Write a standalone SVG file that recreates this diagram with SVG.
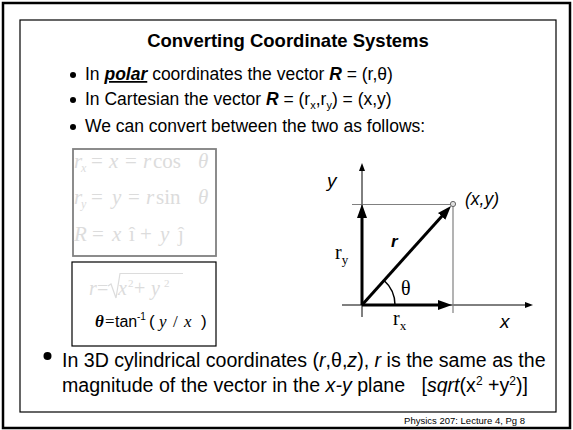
<svg xmlns="http://www.w3.org/2000/svg" width="573" height="430" viewBox="0 0 573 430">
<defs>
<style>
.sans{font-family:"Liberation Sans",Arial,sans-serif}
.serif{font-family:"Liberation Serif","Times New Roman",serif}
.light{fill:#dcdcdc}
.it{font-style:italic}
.bi{font-style:italic;font-weight:bold}
.axis{stroke:#000;stroke-width:1;fill:none}
.guide{stroke:#808080;stroke-width:1.2;fill:none}
.vec{stroke:#000;stroke-width:3;fill:none}
</style>
<marker id="axhead" markerUnits="userSpaceOnUse" markerWidth="8" markerHeight="6" refX="2" refY="3" orient="auto"><path d="M0,0 L8,3 L0,6 z" fill="#000"/></marker>
<marker id="vechead" markerUnits="userSpaceOnUse" markerWidth="14" markerHeight="10" refX="4" refY="5" orient="auto"><path d="M0,0 L14,5 L0,10 z" fill="#000"/></marker>
</defs>
<rect x="0" y="0" width="573" height="430" fill="#fff"/>
<rect x="3" y="3" width="567" height="425" fill="#fff" stroke="#000" stroke-width="2.5"/>
<rect x="20" y="20" width="536" height="392" fill="#fff" stroke="#000" stroke-width="1.2"/>

<g id="title">
<text class="sans" x="288" y="47" font-size="18.5" font-weight="bold" text-anchor="middle">Converting Coordinate Systems</text>
</g>

<g id="bullets" class="sans" font-size="17.5">
<circle cx="73" cy="75" r="3"/>
<text x="85" y="80">In <tspan class="bi" text-decoration="underline">polar</tspan> coordinates the vector <tspan class="bi">R</tspan> = (r,θ)</text>
<circle cx="73" cy="100" r="3"/>
<text x="85" y="105">In Cartesian the vector <tspan class="bi">R</tspan> = (r<tspan font-size="11" dy="4">x</tspan><tspan dy="-4">,r</tspan><tspan font-size="11" dy="4">y</tspan><tspan dy="-4">) = (x,y)</tspan></text>
<circle cx="73" cy="127" r="3"/>
<text x="85" y="132">We can convert between the two as follows:</text>
</g>

<g id="box-components">
<rect x="73" y="149" width="143" height="107" fill="#fff" stroke="#808080" stroke-width="1.8"/>
<g class="serif light" font-size="21">
<text y="168"><tspan x="74" class="it">r</tspan><tspan x="81" dy="4" font-size="12" class="it">x</tspan><tspan x="91" dy="-4">=</tspan><tspan x="109" class="it">x</tspan><tspan x="125">=</tspan><tspan x="143" class="it">r</tspan><tspan x="153">cos</tspan><tspan x="198" class="it">θ</tspan></text>
<text y="204"><tspan x="74" class="it">r</tspan><tspan x="81" dy="4" font-size="12" class="it">y</tspan><tspan x="91" dy="-4">=</tspan><tspan x="112" class="it">y</tspan><tspan x="128">=</tspan><tspan x="146" class="it">r</tspan><tspan x="156">sin</tspan><tspan x="198" class="it">θ</tspan></text>
<text y="241"><tspan x="74" class="it">R</tspan><tspan x="92">=</tspan><tspan x="112" class="it">x</tspan><tspan x="129">î</tspan><tspan x="140">+</tspan><tspan x="160" class="it">y</tspan><tspan x="178">ĵ</tspan></text>
</g>
</g>

<g id="box-polar">
<rect x="72" y="262" width="144" height="84" fill="#fff" stroke="#000" stroke-width="1.2"/>
<g class="serif light" font-size="20">
<text y="295"><tspan x="89" class="it">r</tspan><tspan x="97">=</tspan><tspan x="118" class="it">x</tspan><tspan x="128" dy="-8" font-size="11">2</tspan><tspan x="134" dy="8">+</tspan><tspan x="151" class="it">y</tspan><tspan x="164" dy="-8" font-size="11">2</tspan></text>
</g>
<path d="M108,286 L111,284 L116,298 L120,273.5 L183,273.5" fill="none" stroke="#dcdcdc" stroke-width="1.2"/>
<text y="327" font-size="17"><tspan x="95" class="serif bi">θ</tspan><tspan x="105" class="serif">=</tspan><tspan x="115" class="sans" font-size="16">tan</tspan><tspan x="137" dy="-7" class="sans" font-size="10">-1</tspan><tspan x="149" dy="7" class="sans">(</tspan><tspan x="159" class="serif it">y</tspan><tspan x="173" class="serif">/</tspan><tspan x="184" class="serif it">x</tspan><tspan x="201" class="sans">)</tspan></text>
</g>

<g id="connectors">
<line class="axis" x1="362" y1="317" x2="362" y2="169" marker-end="url(#axhead)"/>
<line class="axis" x1="342" y1="305" x2="527" y2="305" marker-end="url(#axhead)"/>
<line class="guide" x1="352" y1="204.5" x2="453" y2="204.5"/>
<line class="guide" x1="453" y1="204.5" x2="453" y2="313"/>
<line class="vec" x1="362" y1="305" x2="362" y2="214" marker-end="url(#vechead)"/>
<line class="vec" x1="362" y1="305" x2="442" y2="305" marker-end="url(#vechead)"/>
<line class="vec" x1="362" y1="305" x2="444.3" y2="213.4" marker-end="url(#vechead)"/>
<path d="M395,305 A33,33 0 0 0 384.1,280.5" fill="none" stroke="#000" stroke-width="1.5"/>
<circle cx="453" cy="204" r="2.6" fill="#e0e0e0" stroke="#666" stroke-width="1"/>
</g>

<g id="diagram-labels">
<text class="sans it" x="327" y="187" font-size="19">y</text>
<text class="sans it" x="465" y="205" font-size="17.5">(x,y)</text>
<text class="sans bi" x="391" y="247" font-size="17">r</text>
<text class="serif" x="335" y="259" font-size="20">r<tspan font-size="13" dy="5">y</tspan></text>
<text class="serif" x="401" y="295" font-size="20">θ</text>
<text class="serif" x="393" y="325" font-size="20">r<tspan font-size="13" dy="5">x</tspan></text>
<text class="sans it" x="500" y="328" font-size="19">x</text>
</g>

<g id="bottom-bullet" class="sans" font-size="19.6">
<circle cx="47.5" cy="356" r="4"/>
<text x="62" y="367">In 3D cylindrical coordinates (<tspan class="it">r</tspan>,θ,<tspan class="it">z</tspan>), <tspan class="it">r</tspan> is the same as the</text>
<text x="62" y="392" xml:space="preserve">magnitude of the vector in the <tspan class="it">x-y</tspan> plane   [<tspan class="it">sqrt</tspan>(x<tspan font-size="12" dy="-7">2</tspan><tspan dy="7"> +y</tspan><tspan font-size="12" dy="-7">2</tspan><tspan dy="7">)]</tspan></text>
</g>

<g id="footer">
<text class="sans" x="525" y="424" font-size="9.5" text-anchor="end">Physics 207: Lecture 4, Pg 8</text>
</g>
</svg>
